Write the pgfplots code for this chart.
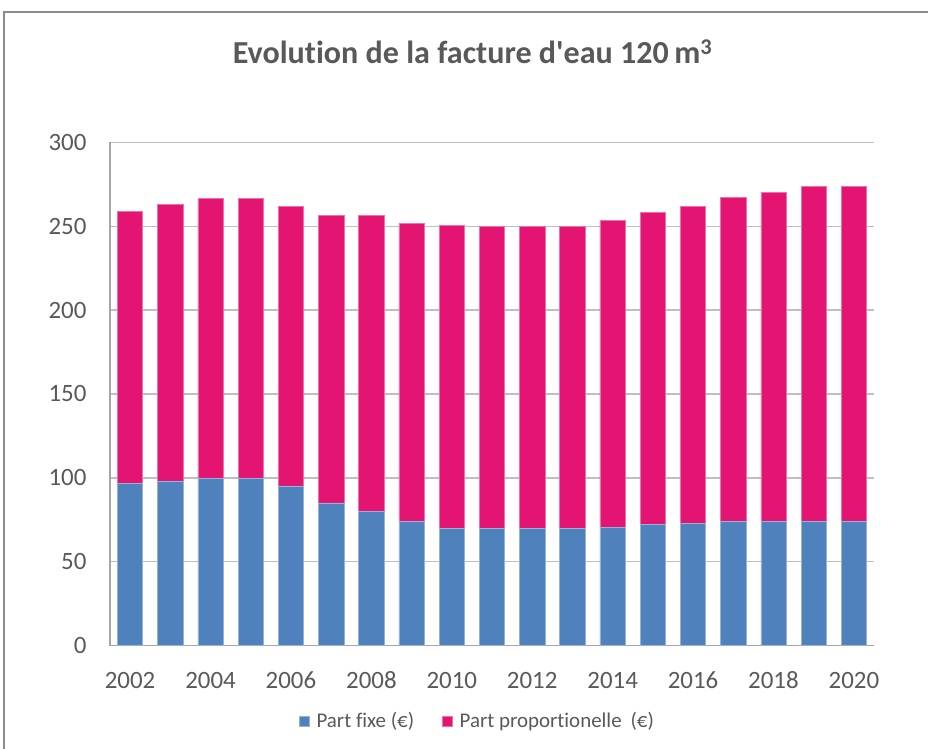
\documentclass[border=0pt]{standalone}
\usepackage{pgfplots}
\pgfplotsset{compat=1.18}
\usepackage{fontspec}
\setmainfont{Carlito}[Ligatures={NoCommon}]
\definecolor{fixe}{HTML}{4F81BD}
\definecolor{prop}{HTML}{E31472}
\definecolor{txt}{HTML}{595959}
\definecolor{grid}{HTML}{A6A6A6}
\definecolor{frame}{HTML}{8C8C8C}
\begin{document}
\begin{tikzpicture}[x=1bp,y=1bp]
\useasboundingbox (0,0) rectangle (928,749);
\draw[frame,line width=2bp] (4,0) -- (4,737) -- (930,737);
\node[txt,font=\bfseries\fontsize{32.2}{38}\selectfont,anchor=center] at (472.5,697) {Evolution de la facture d\textquotesingle eau 120\,m\textsuperscript{3}};
\begin{axis}[
  at={(110bp,103.3bp)}, anchor=south west,
  scale only axis, width=764bp, height=503.4bp,
  ybar stacked, bar width=0.63,
  xmin=-0.5, xmax=18.5, ymin=0, ymax=300,
  xtick={0,2,...,18},
  xticklabels={2002,2004,2006,2008,2010,2012,2014,2016,2018,2020},
  ytick={0,50,...,300},
  xmajorgrids=false, ymajorgrids, grid style={grid,line width=1.3bp},
  axis line style={grid,line width=1.3bp},
  axis x line*=bottom, axis y line*=left,
  major tick length=0pt, tick style={draw=none},
  tick label style={txt,font=\fontsize{25}{30}\selectfont},
  /pgf/number format/assume math mode=true,
  yticklabel style={xshift=-20bp},
  xticklabel style={anchor=north,text height=17bp,text depth=0pt,yshift=-22bp},
  legend style={at={(0.481,-0.1495)},anchor=center,draw=none,fill=none,
    legend columns=2,font=\fontsize{21}{24}\selectfont,text=txt,
    /tikz/every odd column/.append style={column sep=5bp},
    /tikz/every even column/.append style={column sep=26bp}},
  legend image code/.code={\fill[#1] (0bp,-5bp) rectangle (10bp,5bp);},
]
\addplot[fill=fixe,draw=fixe!60!white,line width=0.6bp] coordinates {
(0,96.6) (1,98.2) (2,99.8) (3,99.8) (4,95.2) (5,85.1) (6,79.9) (7,74.3) (8,69.7) (9,69.7)
(10,69.7) (11,69.7) (12,70.6) (13,72.1) (14,73.0) (15,74.3) (16,74.3) (17,74.3) (18,74.3)};
\addlegendentry{Part fixe (€)}
\addplot[fill=prop,draw=prop!60!white,line width=0.6bp] coordinates {
(0,162.0) (1,164.6) (2,166.6) (3,166.6) (4,166.6) (5,171.3) (6,176.5) (7,177.5) (8,180.6) (9,180.3)
(10,180.3) (11,180.3) (12,182.8) (13,185.9) (14,188.8) (15,192.9) (16,196.0) (17,199.2) (18,199.2)};
\addlegendentry{Part proportionelle\hspace{9bp}(€)}
\end{axis}
\end{tikzpicture}
\end{document}
